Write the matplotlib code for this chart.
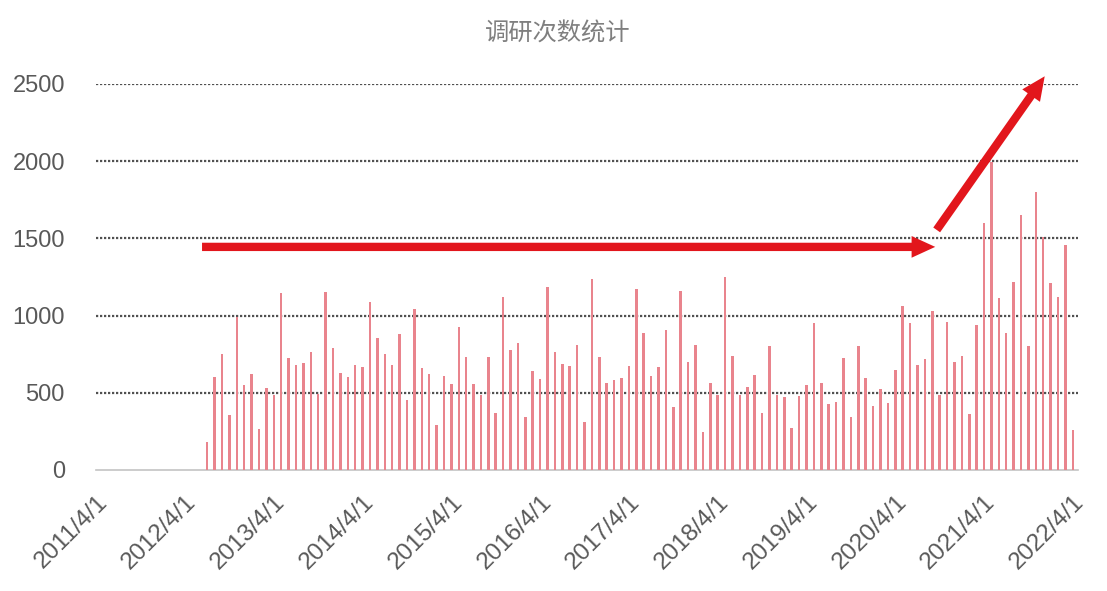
import numpy as np
import pandas as pd
import matplotlib
matplotlib.use("Agg")
from matplotlib import pyplot as plt
from matplotlib.patches import FancyArrowPatch

# monthly survey counts, first bar = 2012/7, last bar = 2022/4
first_month = "2012-07"
counts = [184, 600, 752, 356, 994, 549, 620, 264, 529, 486,
          1145, 724, 680, 691, 767, 492, 1156, 793, 626, 605,
          680, 665, 1086, 853, 750, 680, 881, 454, 1041, 659,
          620, 292, 611, 557, 929, 734, 555, 486, 730, 367,
          1123, 778, 825, 346, 642, 588, 1184, 767, 687, 674,
          810, 313, 1238, 730, 562, 583, 594, 674, 1173, 886,
          609, 665, 907, 406, 1162, 698, 810, 248, 562, 486,
          1248, 739, 486, 540, 616, 367, 804, 486, 475, 270,
          480, 551, 950, 562, 426, 438, 724, 346, 804, 594,
          415, 523, 432, 648, 1063, 950, 680, 717, 1032, 486,
          961, 702, 739, 363, 940, 1598, 1997, 1112, 885, 1220,
          1652, 803, 1803, 1507, 1209, 1123, 1457, 259]
tick_labels = ["2011/4/1", "2012/4/1", "2013/4/1", "2014/4/1", "2015/4/1", "2016/4/1",
               "2017/4/1", "2018/4/1", "2019/4/1", "2020/4/1", "2021/4/1", "2022/4/1"]
y_ticks = [0, 500, 1000, 1500, 2000, 2500]
title = "调研次数统计"

# arrow end points (month index from 2011/4, count)
flat_arrow = [(14.3, 1445), (113.4, 1445)]
up_arrow = [(113.6, 1555), (128.2, 2550)]

months = pd.period_range(first_month, periods=len(counts), freq="M")
x = np.array([(m.year - 2011) * 12 + m.month - 4 for m in months])

plt.rcParams['font.family'] = ['Liberation Sans', 'DejaVu Sans']
fig = plt.figure(figsize=(11.07, 5.91), dpi=100)
ax = fig.add_axes([95.5 / 1107, 1 - 470 / 591, (1078 - 95.5) / 1107, (470 - 84) / 591])

ax.bar(x, counts, width=0.34, color='#e9848d', zorder=3)

ax.set_xlim(-0.1, 132.7)
ax.set_ylim(0, 2500)
ax.set_yticks(y_ticks)
ax.set_yticklabels([str(v) for v in y_ticks], fontsize=17, color='#595959')
ax.set_xticks(np.arange(0, 12 * len(tick_labels), 12))
ax.set_xticklabels(tick_labels, fontsize=17.5, color='#595959', rotation=45,
                   ha='right', va='top', rotation_mode='anchor')
ax.tick_params(axis='y', length=0, pad=22)
ax.tick_params(axis='x', length=0, pad=15)

ax.yaxis.grid(True, linestyle=(0, (1.0, 0.8)), color='#505050', lw=1.6, zorder=1)
ax.get_ygridlines()[0].set_visible(False)
for s in ['top', 'right', 'left']:
    ax.spines[s].set_visible(False)
ax.spines['bottom'].set_color('#c4c4c4')
ax.spines['bottom'].set_linewidth(1.2)

for (a, b) in [flat_arrow, up_arrow]:
    arr = FancyArrowPatch(a, b, arrowstyle='simple,head_width=0.78,head_length=0.85,tail_width=0.3',
                          mutation_scale=20, color='#e2161c', lw=0, shrinkA=0, shrinkB=0,
                          clip_on=False, zorder=6)
    ax.add_patch(arr)

fig.text(0.504, 0.944, title, ha='center', va='center', fontsize=17.5, color='#7f7f7f',
         family=['Noto Sans CJK SC', 'DejaVu Sans'])

fig.savefig('out.png', dpi=100)
